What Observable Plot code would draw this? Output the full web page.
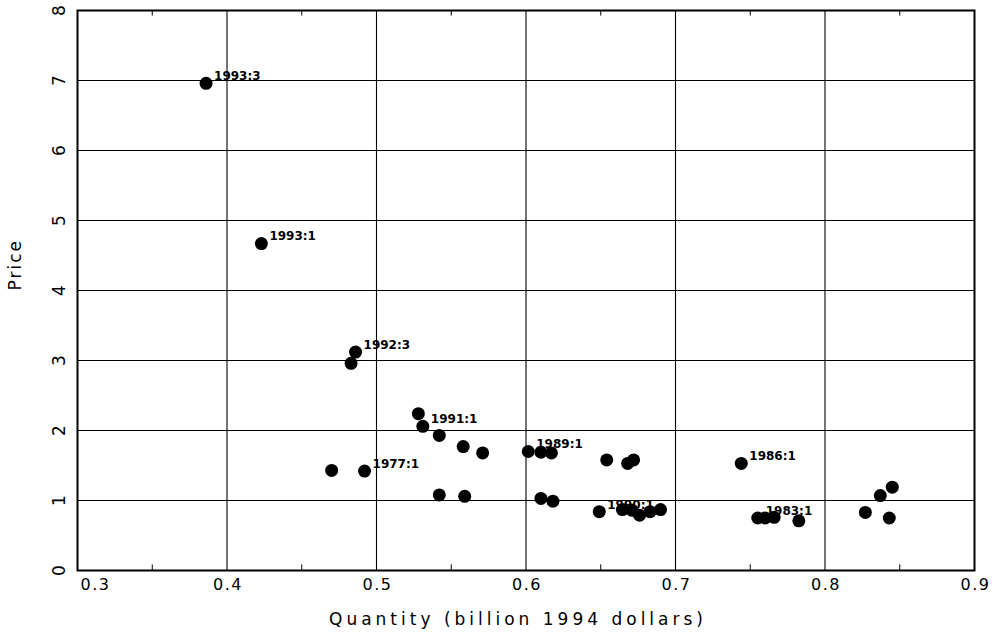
<!DOCTYPE html>
<html>
<head>
<meta charset="utf-8">
<script src="https://cdn.jsdelivr.net/npm/d3@7"></script>
<script src="https://cdn.jsdelivr.net/npm/@observablehq/plot@0.6"></script>
<style>
  html, body { margin: 0; padding: 0; background: #fff; }
  #chart svg { display: block; }
</style>
</head>
<body>
<div id="chart"></div>
<script>
const quantity = [0.386, 0.423, 0.486, 0.483, 0.528, 0.531, 0.542, 0.558, 0.571, 0.470, 0.492,
  0.542, 0.559, 0.6015, 0.610, 0.617, 0.654, 0.668, 0.672, 0.610, 0.618, 0.649,
  0.6645, 0.671, 0.676, 0.683, 0.690, 0.744, 0.755, 0.760, 0.766, 0.7825,
  0.845, 0.837, 0.827, 0.843];
const price = [6.96, 4.67, 3.12, 2.96, 2.24, 2.06, 1.93, 1.77, 1.68, 1.43, 1.42,
  1.08, 1.06, 1.70, 1.69, 1.68, 1.58, 1.53, 1.58, 1.03, 0.99, 0.84,
  0.87, 0.86, 0.79, 0.84, 0.87, 1.53, 0.75, 0.75, 0.76, 0.71,
  1.19, 1.07, 0.83, 0.75];
const labels = ["1993:3", "1993:1", "1992:3", "", "", "1991:1", "", "", "", "", "1977:1",
  "", "", "1989:1", "", "", "", "", "", "", "", "1990:1",
  "", "", "", "", "", "1986:1", "1983:1", "", "", "",
  "", "", "", ""];
const xTicks = [0.3, 0.4, 0.5, 0.6, 0.7, 0.8, 0.9];
const xMinor = [0.35, 0.45, 0.55, 0.65, 0.75, 0.85];
const yTicks = [0, 1, 2, 3, 4, 5, 6, 7, 8];
const xTitle = "Quantity (billion 1994 dollars)";
const yTitle = "Price";

const points = quantity.map((q, i) => ({q, p: price[i], label: labels[i]}));
const font = "DejaVu Sans, sans-serif";

const chart = Plot.plot({
  width: 1002,
  height: 637,
  marginLeft: 77,
  marginRight: 28,
  marginTop: 10,
  marginBottom: 67,
  style: {fontFamily: font, background: "#fff", color: "#000"},
  x: {domain: [0.3, 0.9], axis: null},
  y: {domain: [0, 8], axis: null},
  marks: [
    Plot.ruleX(xTicks.slice(1, -1), {stroke: "#000", strokeWidth: 1.1}),
    Plot.ruleY(yTicks.slice(1, -1), {stroke: "#000", strokeWidth: 1.1}),
    Plot.ruleX(xMinor, {y1: 0, y2: 0.08, stroke: "#000", strokeWidth: 1}),
    Plot.ruleX(xMinor, {y1: 7.92, y2: 8, stroke: "#000", strokeWidth: 1}),
    Plot.frame({stroke: "#000", strokeWidth: 2}),
    Plot.text(xTicks.slice(0, 1), {x: d => d, frameAnchor: "bottom", dy: 19, dx: 3, textAnchor: "start", text: d => d.toFixed(1), fontSize: 16, fill: "#000"}),
    Plot.text(xTicks.slice(1), {x: d => d, frameAnchor: "bottom", dy: 19, dx: 1, text: d => d.toFixed(1), fontSize: 16, fill: "#000"}),
    Plot.text(yTicks, {y: d => d, frameAnchor: "left", dx: -18, rotate: -90, text: d => String(d), fontSize: 17, fill: "#000", textAnchor: "middle"}),
    Plot.text([xTitle], {frameAnchor: "bottom", dx: -8, dy: 54, fontSize: 17, fill: "#000"}),
    Plot.text([yTitle], {frameAnchor: "left", dx: -62, rotate: -90, fontSize: 17, fill: "#000"}),
    Plot.dot(points, {x: "q", y: "p", r: 6.5, fill: "#000", stroke: "none"}),
    Plot.text(points.filter(d => d.label), {x: "q", y: "p", text: "label", dx: 8, dy: -7, textAnchor: "start", fontSize: 12, fontWeight: "bold", fill: "#000"})
  ]
});
// widen the letter spacing of the axis texts to match the original typeface
d3.select(chart).selectAll("text").each(function() {
  const t = this.textContent;
  if (t === xTitle) this.setAttribute("letter-spacing", "4");
  else if (t === yTitle) this.setAttribute("letter-spacing", "2");
  else if (/^0\.\d$/.test(t)) this.setAttribute("letter-spacing", "1.5");
});
document.getElementById("chart").append(chart);
</script>
</body>
</html>
